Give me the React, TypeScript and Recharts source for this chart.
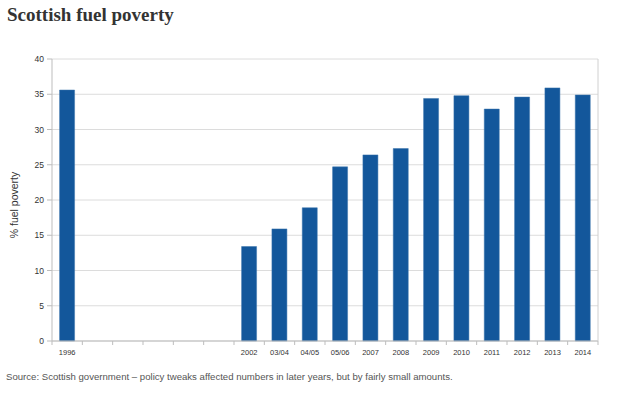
import React from "react";
import { BarChart, Bar, XAxis, YAxis, CartesianGrid, Label } from "recharts";

const categories = ["1996", "", "", "", "", "", "2002", "03/04", "04/05", "05/06", "2007", "2008", "2009", "2010", "2011", "2012", "2013", "2014"];
const fuelPoverty: (number | null)[] = [35.6, null, null, null, null, null, 13.4, 15.9, 18.9, 24.7, 26.4, 27.3, 34.4, 34.8, 32.9, 34.6, 35.9, 34.9];
const yTicks = [0, 5, 10, 15, 20, 25, 30, 35, 40];

const data = categories.map((label, i) => ({ label, value: fuelPoverty[i] }));

const CHART_W = 619;
const CHART_H = 397;
const MARGIN = { top: 59, right: 20, bottom: 26, left: 0 };
const Y_W = 52;
const RIGHT_W = 1;
const PLOT_W = CHART_W - MARGIN.left - MARGIN.right - Y_W - RIGHT_W;
const SLOT = PLOT_W / categories.length;

const XTick = (props: any) => {
  const { x, y, payload, index } = props;
  const last = index === categories.length - 1;
  return (
    <g>
      <line x1={x - SLOT / 2} x2={x - SLOT / 2} y1={y} y2={y + 4} stroke="#bdbdbd" />
      {last && <line x1={x + SLOT / 2} x2={x + SLOT / 2} y1={y} y2={y + 4} stroke="#bdbdbd" />}
      <text x={x} y={y + 14} textAnchor="middle" fontSize={7.5} fill="#333" fontFamily="Liberation Sans, Arial, sans-serif">
        {payload.value}
      </text>
    </g>
  );
};

export default function App() {
  return (
    <div style={{ position: "absolute", left: 0, top: 0, width: CHART_W, height: CHART_H, background: "#fff" }}>
      <div style={{ position: "absolute", left: 7, top: 4, fontFamily: "'Liberation Serif', serif", fontWeight: "bold", fontSize: 19, color: "#333", whiteSpace: "nowrap" }}>
        Scottish fuel poverty
      </div>
      <BarChart width={CHART_W} height={CHART_H} data={data} margin={MARGIN} barCategoryGap="25%">
        <CartesianGrid vertical={false} stroke="#dcdcdc" />
        <XAxis dataKey="label" interval={0} tick={<XTick />} tickLine={false} tickSize={0} tickMargin={0} axisLine={{ stroke: "#bdbdbd" }} height={30} />
        <YAxis
          domain={[0, 40]}
          ticks={yTicks}
          width={Y_W}
          tickSize={5}
          tickMargin={3}
          axisLine={{ stroke: "#bdbdbd" }}
          tickLine={{ stroke: "#bdbdbd" }}
          tick={{ fontSize: 8.5, fill: "#333", fontFamily: "Liberation Sans, Arial, sans-serif" }}
        >
          <Label value="% fuel poverty" angle={-90} position="insideLeft" offset={14} dy={5} style={{ fontSize: 10.5, fill: "#333", fontFamily: "Liberation Sans, Arial, sans-serif", textAnchor: "middle" }} />
        </YAxis>
        <YAxis yAxisId="right" orientation="right" domain={[0, 40]} width={RIGHT_W} tick={false} tickLine={false} axisLine={{ stroke: "#d0d0d0" }} />
        <Bar dataKey="value" fill="#13579b" stroke="#3a74ad" strokeWidth={0.5} isAnimationActive={false} />
      </BarChart>
      <div style={{ position: "absolute", left: 6, top: 371, fontFamily: "'Liberation Sans', Arial, sans-serif", fontSize: 9.6, color: "#555", whiteSpace: "nowrap" }}>
        Source: Scottish government – policy tweaks affected numbers in later years, but by fairly small amounts.
      </div>
    </div>
  );
}
